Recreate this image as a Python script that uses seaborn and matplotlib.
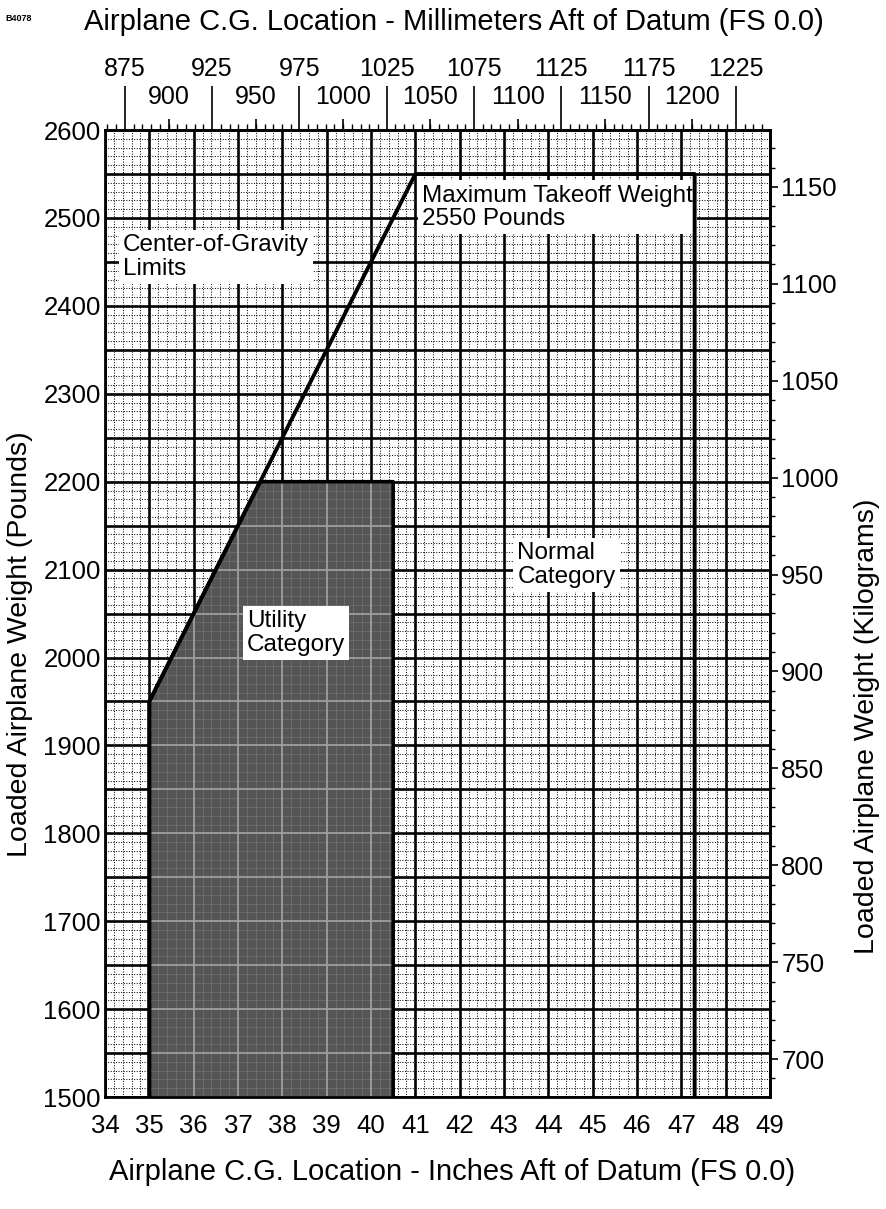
import matplotlib
matplotlib.use("Agg")
import matplotlib.pyplot as plt
from matplotlib.patches import Polygon
import numpy as np
import seaborn as sns

# envelope corners (inches aft of datum, pounds)
normal_cg = [35.0, 35.0, 41.0, 47.3, 47.3]
normal_wt = [1500, 1950, 2550, 2550, 1500]
utility_cg = [35.0, 35.0, 37.5, 40.5, 40.5]
utility_wt = [1500, 1950, 2200, 2200, 1500]

inch_ticks = list(range(34, 50))
lb_ticks = list(range(1500, 2601, 100))
kg_ticks = list(range(700, 1151, 50))
mm_upper = list(range(875, 1226, 50))
mm_lower = list(range(900, 1201, 50))

notes = [
    (34.4, 2482, "Center-of-Gravity\nLimits"),
    (41.15, 2538, "Maximum Takeoff Weight\n2550 Pounds"),
    (37.2, 2054, "Utility\nCategory"),
    (43.3, 2131, "Normal\nCategory"),
]

sns.set_theme(style="white")
plt.rcParams["font.family"] = ["Liberation Sans", "DejaVu Sans"]
plt.rcParams["text.color"] = "black"

fig = plt.figure(figsize=(8.86, 12.09), dpi=100)
ax = fig.add_axes([0.1185, 0.0926, 0.7506, 0.7998])
ax.set_xlim(34, 49)
ax.set_ylim(1500, 2600)

ax.set_xticks(inch_ticks)
ax.set_xticks(np.arange(34, 49.01, 0.2), minor=True)
ax.set_yticks(np.arange(1500, 2601, 50))
ax.set_yticklabels([str(v) if v in lb_ticks else "" for v in np.arange(1500, 2601, 50)])
ax.set_yticks(np.arange(1500, 2601, 10), minor=True)
ax.tick_params(which="both", length=0, labelsize=18.5, colors="black")
ax.tick_params(axis="x", pad=12)
ax.tick_params(axis="y", pad=3)

ax.grid(which="major", color="black", lw=1.9)
ax.grid(which="minor", color="#111111", lw=0.75, ls=(0, (1, 1.5)))
for s in ax.spines.values():
    s.set_color("black")
    s.set_linewidth(2)

# utility category shading
util = Polygon(list(zip(utility_cg, utility_wt)), closed=True,
               fc="#555555", ec="none", zorder=2)
ax.add_patch(util)
for x in np.arange(35, 41, 1):
    ax.axvline(x, color="#9c9c9c", lw=1.3, zorder=2.5, clip_path=util)
for y in np.arange(1500, 2201, 50):
    ax.axhline(y, color="#9c9c9c", lw=1.3, zorder=2.5, clip_path=util)
for x in np.arange(35, 40.6, 0.2):
    ax.axvline(x, color="#737373", lw=0.5, zorder=2.4, clip_path=util)
for y in np.arange(1500, 2201, 10):
    ax.axhline(y, color="#737373", lw=0.5, zorder=2.4, clip_path=util)

sns.lineplot(x=utility_cg, y=utility_wt, sort=False, estimator=None,
             color="black", lw=2.6, ax=ax, zorder=6)
sns.lineplot(x=normal_cg, y=normal_wt, sort=False, estimator=None,
             color="black", lw=2.8, ax=ax, zorder=6)

for x, y, t in notes:
    ax.text(x, y, t, ha="left", va="top", fontsize=17.5, linespacing=1.1,
            color="black", zorder=5,
            bbox=dict(fc="white", ec="none", pad=3))

# millimetre scale on top
secx = ax.secondary_xaxis("top", functions=(lambda v: v * 25.4, lambda v: v / 25.4))
secx.set_xticks(mm_upper)
secx.set_xticks(np.arange(865, 1241, 5), minor=True)
secx.tick_params(which="major", length=32, width=1.2, pad=3, labelsize=18,
                 direction="out", colors="black")
secx.tick_params(which="minor", length=4, width=1, direction="out", colors="black")
secx.spines["top"].set_linewidth(2)

secx2 = ax.secondary_xaxis("top", functions=(lambda v: v * 25.4, lambda v: v / 25.4))
secx2.set_xticks(mm_lower)
secx2.tick_params(which="major", length=8, width=1.2, pad=7, labelsize=18,
                  direction="out", colors="black")
secx2.tick_params(which="minor", length=0)
secx2.spines["top"].set_visible(False)

# kilogram scale on right
secy = ax.secondary_yaxis("right", functions=(lambda w: w * 0.45359237, lambda k: k / 0.45359237))
secy.set_yticks(kg_ticks)
secy.set_yticks(np.arange(690, 1180, 10), minor=True)
secy.tick_params(which="major", length=6, width=1.2, pad=2, labelsize=18.5,
                 direction="out", colors="black")
secy.tick_params(which="minor", length=3.5, width=1, direction="out", colors="black")
secy.spines["right"].set_linewidth(2)

fig.text(0.512, 0.982, "Airplane C.G. Location - Millimeters Aft of Datum (FS 0.0)",
         ha="center", va="center", fontsize=21, color="black")
fig.text(0.006, 0.985, "B4078", ha="left", va="center", fontsize=6.5,
         fontweight="bold", color="black")
fig.text(0.51, 0.031, "Airplane C.G. Location - Inches Aft of Datum (FS 0.0)",
         ha="center", va="center", fontsize=21, color="black")
fig.text(0.0226, 0.467, "Loaded Airplane Weight (Pounds)", rotation=90,
         ha="center", va="center", fontsize=20.5, color="black")
fig.text(0.979, 0.399, "Loaded Airplane Weight (Kilograms)", rotation=90,
         ha="center", va="center", fontsize=20.5, color="black")

fig.savefig("out.png", dpi=100, facecolor="white")
